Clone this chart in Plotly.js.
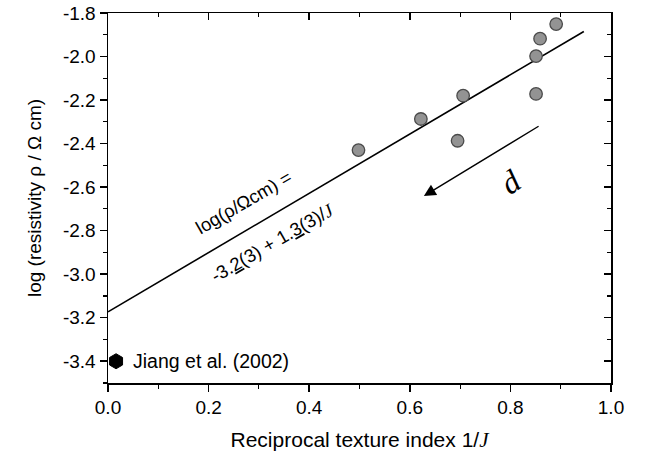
<!DOCTYPE html>
<html>
<head>
<meta charset="utf-8">
<script src="https://cdn.plot.ly/plotly-3.0.1.min.js"></script>
<style>html,body{margin:0;padding:0;background:#fff;}#chart{width:645px;height:458px;}</style>
</head>
<body>
<div id="chart"></div>
<script>
const recipJ = [0.498, 0.622, 0.695, 0.706, 0.851, 0.851, 0.859, 0.891];
const logRho = [-2.43, -2.287, -2.387, -2.18, -1.998, -2.172, -1.918, -1.851];

// Linear fit line endpoints
const fitX = [0.0, 0.946];
const fitY = [-3.173, -1.885];

// Literature reference point
const jiangX = [0.016];
const jiangY = [-3.40];
const jiangLabel = 'Jiang et al. (2002)';

// Arrow (tail -> head), in data units
const arrowTail = [0.859, -2.316];
const arrowHead = [0.628, -2.641];

const xTicks = [0.0, 0.2, 0.4, 0.6, 0.8, 1.0];
const yTicks = [-3.4, -3.2, -3.0, -2.8, -2.6, -2.4, -2.2, -2.0, -1.8];

const FONT = 'Liberation Sans, Arial, sans-serif';
const SERIF = 'Liberation Serif, Times New Roman, serif';

const traces = [
  {x: fitX, y: fitY, mode: 'lines', line: {color: '#000', width: 1.6}, hoverinfo: 'skip', showlegend: false},
  {x: recipJ, y: logRho, mode: 'markers',
   marker: {size: 12.5, color: '#939393', line: {color: '#4a4a4a', width: 1.3}}, showlegend: false},
  {x: jiangX, y: jiangY, mode: 'markers',
   marker: {symbol: 'hexagon', size: 15, color: '#000', line: {color: '#000', width: 1}}, showlegend: false},
  {x: [null], y: [null], xaxis: 'x2', yaxis: 'y2', mode: 'markers', showlegend: false, hoverinfo: 'skip'}
];

const axCommon = {
  showgrid: false, zeroline: false, showline: true, linecolor: '#000', linewidth: 1.5,
  tickcolor: '#000', tickwidth: 1.5, ticklen: 7
};

const layout = {
  width: 645, height: 458,
  margin: {l: 108, r: 34, t: 13, b: 75},
  paper_bgcolor: '#fff', plot_bgcolor: '#fff',
  font: {family: FONT, color: '#000', size: 18},
  xaxis: Object.assign({}, axCommon, {
    range: [0, 1.0], tickmode: 'array', tickvals: xTicks,
    ticktext: xTicks.map(v => v.toFixed(1)), ticks: 'outside',
    minor: {dtick: 0.1, ticks: 'outside', ticklen: 4, tickwidth: 1.2, tickcolor: '#000'},
    tickfont: {size: 19, family: FONT},
    title: {text: 'Reciprocal texture index 1/<span style="font-family:' + SERIF + '"><i>J</i></span>',
            font: {size: 21, family: FONT}, standoff: 15}
  }),
  yaxis: Object.assign({}, axCommon, {
    range: [-3.5, -1.8], tickmode: 'array', tickvals: yTicks,
    ticktext: yTicks.map(v => v.toFixed(1)), ticks: 'outside',
    minor: {dtick: 0.1, tick0: -1.8, ticks: 'outside', ticklen: 4, tickwidth: 1.2, tickcolor: '#000'},
    tickfont: {size: 19, family: FONT},
    title: {text: 'log (resistivity ρ / Ω cm)', font: {size: 19, family: FONT}, standoff: 16}
  }),
  xaxis2: Object.assign({}, axCommon, {
    overlaying: 'x', side: 'top', anchor: 'y2', range: [0, 1.0],
    tickmode: 'array', tickvals: xTicks, showticklabels: false, ticks: 'inside',
    minor: {dtick: 0.1, ticks: 'inside', ticklen: 4, tickwidth: 1.2, tickcolor: '#000'}
  }),
  yaxis2: Object.assign({}, axCommon, {
    overlaying: 'y', side: 'right', anchor: 'x2', range: [-3.5, -1.8],
    tickmode: 'array', tickvals: yTicks, showticklabels: false, ticks: 'inside',
    minor: {dtick: 0.1, tick0: -1.8, ticks: 'inside', ticklen: 4, tickwidth: 1.2, tickcolor: '#000'}
  }),
  annotations: [
    {x: jiangX[0] + 0.029, y: jiangY[0], xref: 'x', yref: 'y', text: jiangLabel, showarrow: false,
     xanchor: 'left', yanchor: 'middle', font: {size: 19.5, family: FONT}},
    {x: arrowHead[0], y: arrowHead[1], ax: arrowTail[0], ay: arrowTail[1], xref: 'x', yref: 'y',
     axref: 'x', ayref: 'y', text: '', showarrow: true, arrowhead: 2, arrowsize: 1.7, arrowwidth: 1.4,
     arrowcolor: '#000'},
    {x: 0.80, y: -2.575, xref: 'x', yref: 'y', text: '<i>d</i>', showarrow: false, textangle: -35,
     font: {size: 32, family: SERIF}},
    {x: 0.269, y: -2.669, xref: 'x', yref: 'y', text: 'log(ρ/Ωcm) =', showarrow: false, textangle: -30,
     font: {size: 18.5, family: FONT}},
    {x: 0.327, y: -2.853, xref: 'x', yref: 'y',
     text: '-3.<u>2</u>(3) + 1.<u>3</u>(3)/<span style="font-family:' + SERIF + '"><i>J</i></span>',
     showarrow: false, textangle: -30, font: {size: 18.5, family: FONT}}
  ]
};

Plotly.newPlot('chart', traces, layout, {displayModeBar: false, staticPlot: true});
</script>
</body>
</html>
